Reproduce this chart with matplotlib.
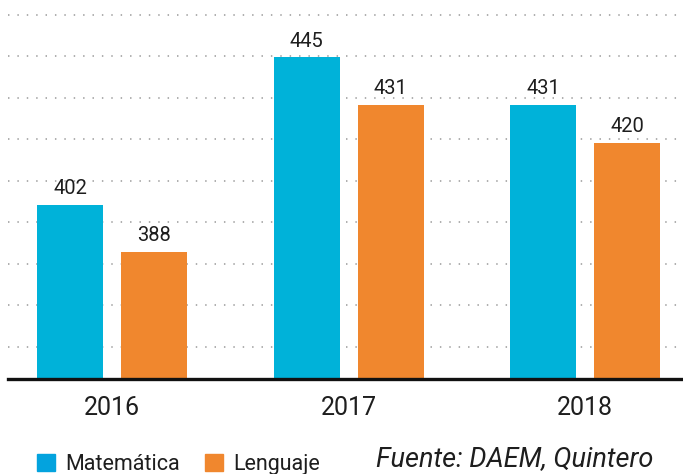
import matplotlib
matplotlib.use("Agg")
import matplotlib.pyplot as plt
import numpy as np
from matplotlib.patches import Rectangle

years = ['2016', '2017', '2018']
matematica = [402, 445, 431]
lenguaje = [388, 431, 420]
series_names = ['Matemática', 'Lenguaje']
source = 'Fuente: DAEM, Quintero'

blue = '#00B2D9'
orange = '#F0872E'
txt = '#1e1e1e'

plt.rcParams['font.family'] = ['Roboto', 'DejaVu Sans']

fig = plt.figure(figsize=(6.83, 4.74), dpi=100)
ax = fig.add_axes([8 / 683, 95 / 474, 675 / 683, 379 / 474])

x = np.arange(len(years))
w = 0.279
off = 0.1776
b1 = ax.bar(x - off, matematica, width=w, color=blue, zorder=3)
b2 = ax.bar(x + off, lenguaje, width=w, color=orange, zorder=3)

for bars in (b1, b2):
    for rect in bars:
        h = rect.get_height()
        ax.annotate('%d' % h, (rect.get_x() + rect.get_width() / 2, h),
                    xytext=(0, 5), textcoords='offset points',
                    ha='center', va='bottom', fontsize=14.5, color=txt)

ax.set_xlim(-0.44, 2.414)
ax.set_ylim(351, 461.8)

# dotted guide lines
for gy in np.arange(360.4, 460, 12.13):
    ax.axhline(gy, color='#a8a8a8', lw=1.3, ls=(0, (0.8, 4.4)), zorder=1)

for s in ['top', 'right', 'left']:
    ax.spines[s].set_visible(False)
ax.spines['bottom'].set_linewidth(2.4)
ax.spines['bottom'].set_color('#111111')
ax.spines['bottom'].set_zorder(4)
ax.set_yticks([])
ax.set_xticks(x)
ax.set_xticklabels(years, fontsize=18, color=txt)
ax.tick_params(axis='x', length=0, pad=12)

# legend
fig.patches.append(Rectangle((37 / 683, 3 / 474), 18 / 683, 17 / 474,
                             transform=fig.transFigure, color='#03A3DE'))
fig.text(65 / 683, 4 / 474, series_names[0], fontsize=15.5, color=txt,
         ha='left', va='baseline')
fig.patches.append(Rectangle((205 / 683, 3 / 474), 18 / 683, 17 / 474,
                             transform=fig.transFigure, color=orange))
fig.text(233 / 683, 4 / 474, series_names[1], fontsize=15.5, color=txt,
         ha='left', va='baseline')
fig.text(376 / 683, 2 / 474, source, fontsize=19.5, style='italic', color=txt,
         ha='left', va='bottom')

fig.savefig('out.png', dpi=100)
